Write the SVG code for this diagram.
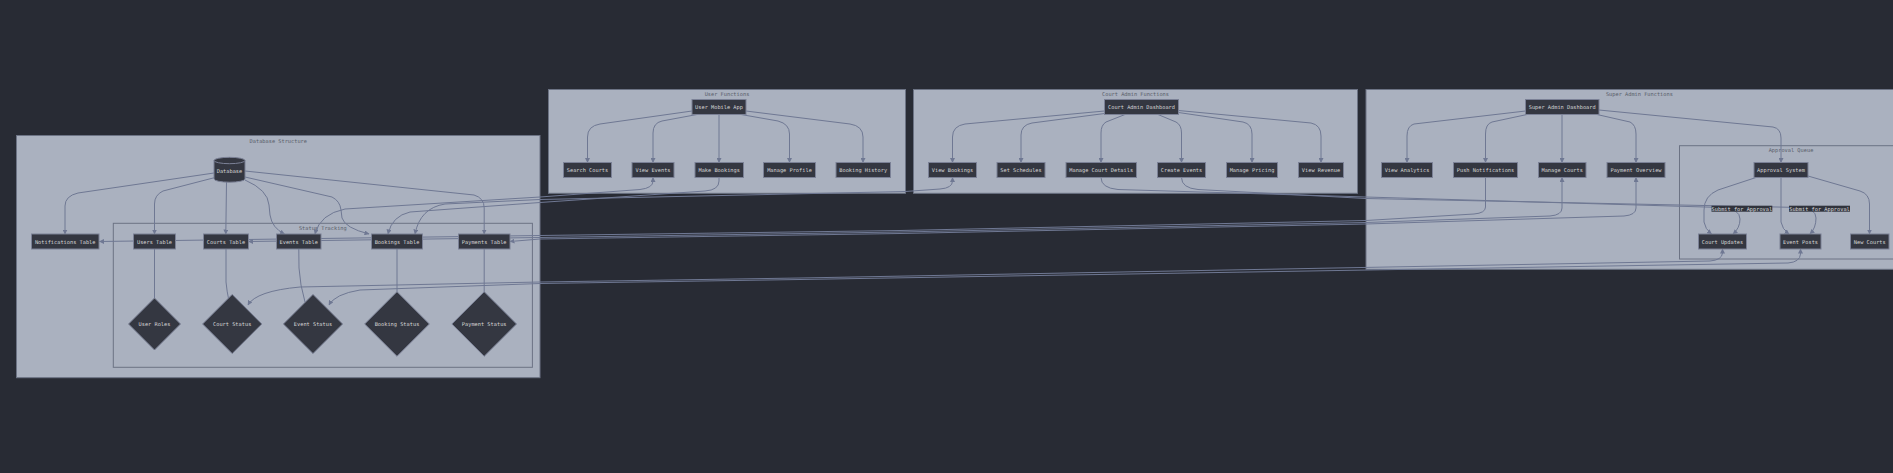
<svg xmlns="http://www.w3.org/2000/svg" width="1893" height="473" viewBox="0 0 1893 473">
<style>
text{font-family:"DejaVu Sans Mono","Liberation Mono",monospace;font-size:5.3px;text-anchor:middle;dominant-baseline:central}
.cluster rect{fill:#aab1bf;stroke:#6c7384;stroke-width:1}
.ctitle{fill:#585d69}
.node rect,.node path,.node polygon{fill:#343741;stroke:#7b8196;stroke-width:1}
.node text{fill:#d6d6d6}
.edge{fill:none;stroke:#6f7893;stroke-width:1}
.arr{marker-end:url(#ah)}
.bi{marker-start:url(#ahs);marker-end:url(#ah)}
.elabel rect{fill:#30333c}
.elabel text{fill:#dcdcdc}
</style>
<defs>
<marker id="ah" viewBox="0 0 10 10" refX="9" refY="5" markerWidth="5" markerHeight="5" markerUnits="userSpaceOnUse" orient="auto"><path d="M0,0 L10,5 L0,10 z" fill="#6f7893"/></marker>
<marker id="ahs" viewBox="0 0 10 10" refX="9" refY="5" markerWidth="5" markerHeight="5" markerUnits="userSpaceOnUse" orient="auto-start-reverse"><path d="M0,0 L10,5 L0,10 z" fill="#6f7893"/></marker>
</defs>
<rect width="1893" height="473" fill="#282b34"/>

<g id="clusters">
<g id="cl-db" class="cluster"><rect x="16.5" y="135.5" width="523.5" height="242.2"/><text class="ctitle" x="278.3" y="140.5">Database Structure</text></g>
<g id="cl-status" class="cluster"><rect x="113.3" y="223.3" width="419.1" height="144"/><text class="ctitle" x="322.8" y="228">Status Tracking</text></g>
<g id="cl-user" class="cluster"><rect x="548.5" y="89.5" width="357" height="103.8"/><text class="ctitle" x="727" y="94">User Functions</text></g>
<g id="cl-court" class="cluster"><rect x="913.5" y="89.5" width="444" height="103.8"/><text class="ctitle" x="1135.5" y="94">Court Admin Functions</text></g>
<g id="cl-super" class="cluster"><rect x="1366" y="89.5" width="547" height="179.8"/><text class="ctitle" x="1639.4" y="94">Super Admin Functions</text></g>
<g id="cl-approval" class="cluster"><rect x="1679.5" y="145.7" width="223" height="113.3"/><text class="ctitle" x="1791" y="150.3">Approval Queue</text></g>
</g>

<g id="connectors">
<!-- User Mobile App -->
<path class="edge arr" d="M692,111 L600,124 Q587.5,126 587.5,137 L587.5,162.5"/>
<path class="edge arr" d="M697,114.5 L662,121 Q653,123 653,133 L653,162.5"/>
<path class="edge arr" d="M719,114.5 L719,162.5"/>
<path class="edge arr" d="M741,114.5 L778,121 Q789.5,124 789.5,134 L789.5,162.5"/>
<path class="edge arr" d="M746,111 L850,124 Q863,126 863,137 L863,162.5"/>
<!-- Court Admin Dashboard -->
<path class="edge arr" d="M1104.5,111 L965,124 Q952.5,126 952.5,137 L952.5,162.5"/>
<path class="edge arr" d="M1104.5,113.5 L1032,123 Q1021,125 1021,135 L1021,162.5"/>
<path class="edge arr" d="M1125,114.5 L1106,122 Q1101,125 1101,133 L1101,162.5"/>
<path class="edge arr" d="M1158,114.5 L1176,122 Q1181.5,125 1181.5,133 L1181.5,162.5"/>
<path class="edge arr" d="M1178.5,112.5 L1243,122 Q1252,124 1252,134 L1252,162.5"/>
<path class="edge arr" d="M1178.5,110.5 L1311,123 Q1321,125 1321,136 L1321,162.5"/>
<!-- Super Admin Dashboard -->
<path class="edge arr" d="M1525.5,111 L1414,124 Q1407,126 1407,136 L1407,162.5"/>
<path class="edge arr" d="M1527,114.5 L1492,122 Q1485.5,124 1485.5,134 L1485.5,162.5"/>
<path class="edge arr" d="M1562,114.5 L1562,162.5"/>
<path class="edge arr" d="M1597,114.5 L1630,122 Q1636,125 1636,134 L1636,162.5"/>
<path class="edge arr" d="M1599,110 L1773,127 Q1781,128.5 1781,138 L1781,162.5"/>
<!-- Approval System -->
<path class="edge arr" d="M1756,177.5 L1718,190 Q1704,196 1704,210 L1704,222 Q1705,229 1711.5,234"/>
<path class="edge arr" d="M1781,177.5 L1781,222 Q1782,229 1789,234"/>
<path class="edge arr" d="M1808,176 L1860,191 Q1869.5,194 1869.5,204 L1869.5,234"/>
<!-- Submit for approval -->
<path class="edge arr" d="M1101,177.5 Q1101,188 1118,189.5 L1366,197 L1722,207.5 Q1740,209 1740,219 Q1740,228 1733,234"/>
<path class="edge arr" d="M1181.5,177.5 Q1181.5,188 1198,189.5 L1366,198.5 L1800,207.5 Q1816,208.5 1816,218 Q1816,228 1810,234"/>
<!-- Database -->
<path class="edge arr" d="M214,173 L78,193 Q65,196 65,206 L65,234"/>
<path class="edge arr" d="M217,177 L163,191 Q154.5,195 154.5,204 L154.5,234"/>
<path class="edge arr" d="M226.5,182 L225.8,234"/>
<path class="edge arr" d="M245,180 Q268,190 269,205 L270,215 Q272,228 284.5,234"/>
<path class="edge arr" d="M245,177 L332,197 Q340,201 341,210 L342,218 Q345,228 369,234"/>
<path class="edge arr" d="M245,171 L474,195 Q484.2,198 484.2,208 L484.2,234"/>
<!-- Tables to status -->
<path class="edge" d="M154.5,249 L154.5,298"/>
<path class="edge" d="M226,249 L226,282 Q227,292 228.5,298.5"/>
<path class="edge" d="M298.8,249 L299,268 Q300,285 305,302"/>
<path class="edge" d="M397,249 L397,291.7"/>
<path class="edge" d="M484.2,249 L484.2,291.7"/>
<!-- Cross links -->
<path class="edge bi" d="M653,177.5 L653,181 Q653,188 640,189.5 L540,197 L345,209 Q320,214 315,234"/>
<path class="edge arr" d="M719,177.5 L719,181 Q719,190 705,191 L540,202.5 L410,212 Q392,216 388,234"/>
<path class="edge bi" d="M952.5,177.5 L952.5,181 Q952.5,188 940,189 L905,191.5 L540,199.5 L445,204 Q420,208 415,234"/>
<path class="edge arr" d="M1485.5,177.5 L1485.5,207 Q1485.5,213 1474,214 L1366,220.5 L900,230.5 L540,235.5 L99.5,241.5"/>
<path class="edge bi" d="M1562,177.5 L1562,208 Q1562,215 1550,216 L1366,222.5 L900,232 L540,237.5 L248.5,241.5"/>
<path class="edge bi" d="M1636,177.5 L1636,208 Q1636,215 1624,216 L1366,224 L900,233.5 L540,239 L510,241.5"/>
<path class="edge bi" d="M1722.5,249 L1722.5,253 Q1722,260 1710,261 L800,278 L540,282 L300,287 Q256,291 248,305"/>
<path class="edge bi" d="M1800.5,249 L1800.5,254 Q1800,262 1788,263 L800,279.5 L540,283.5 L360,290 Q335,294 329,305"/>
</g>

<g id="edge-labels">
<g class="elabel"><rect x="1711.5" y="205.7" width="60.8" height="6"/><text x="1741.9" y="208.7">Submit for Approval</text></g>
<g class="elabel"><rect x="1789" y="205.7" width="61" height="6"/><text x="1819.5" y="208.7">Submit for Approval</text></g>
</g>

<g id="nodes">
<g id="n-usermobile" class="node"><rect x="692" y="99.5" width="54" height="15"/><text x="719" y="107">User Mobile App</text></g>
<g id="n-searchcourts" class="node"><rect x="563.5" y="162.5" width="48" height="15"/><text x="587.5" y="170">Search Courts</text></g>
<g id="n-viewevents" class="node"><rect x="632" y="162.5" width="42" height="15"/><text x="653" y="170">View Events</text></g>
<g id="n-makebookings" class="node"><rect x="695" y="162.5" width="48.5" height="15"/><text x="719.2" y="170">Make Bookings</text></g>
<g id="n-manageprofile" class="node"><rect x="763.5" y="162.5" width="52" height="15"/><text x="789.5" y="170">Manage Profile</text></g>
<g id="n-bookinghistory" class="node"><rect x="836" y="162.5" width="54.5" height="15"/><text x="863.2" y="170">Booking History</text></g>

<g id="n-courtadmin" class="node"><rect x="1104.5" y="99.5" width="74" height="15"/><text x="1141.5" y="107">Court Admin Dashboard</text></g>
<g id="n-viewbookings" class="node"><rect x="928.5" y="162.5" width="48" height="15"/><text x="952.5" y="170">View Bookings</text></g>
<g id="n-setschedules" class="node"><rect x="997" y="162.5" width="48" height="15"/><text x="1021" y="170">Set Schedules</text></g>
<g id="n-managecourtdetails" class="node"><rect x="1066" y="162.5" width="70.5" height="15"/><text x="1101.2" y="170">Manage Court Details</text></g>
<g id="n-createevents" class="node"><rect x="1157.5" y="162.5" width="48" height="15"/><text x="1181.5" y="170">Create Events</text></g>
<g id="n-managepricing" class="node"><rect x="1226.5" y="162.5" width="51" height="15"/><text x="1252" y="170">Manage Pricing</text></g>
<g id="n-viewrevenue" class="node"><rect x="1298.5" y="162.5" width="45" height="15"/><text x="1321" y="170">View Revenue</text></g>

<g id="n-superadmin" class="node"><rect x="1525.5" y="99.5" width="73.5" height="15"/><text x="1562.2" y="107">Super Admin Dashboard</text></g>
<g id="n-viewanalytics" class="node"><rect x="1381.5" y="162.5" width="51" height="15"/><text x="1407" y="170">View Analytics</text></g>
<g id="n-pushnotifications" class="node"><rect x="1453.5" y="162.5" width="64" height="15"/><text x="1485.5" y="170">Push Notifications</text></g>
<g id="n-managecourts" class="node"><rect x="1538.5" y="162.5" width="47.5" height="15"/><text x="1562.2" y="170">Manage Courts</text></g>
<g id="n-paymentoverview" class="node"><rect x="1607" y="162.5" width="58" height="15"/><text x="1636" y="170">Payment Overview</text></g>
<g id="n-approvalsystem" class="node"><rect x="1754" y="162.5" width="54" height="15"/><text x="1781" y="170">Approval System</text></g>
<g id="n-courtupdates" class="node"><rect x="1698.5" y="234" width="48" height="15"/><text x="1722.5" y="241.5">Court Updates</text></g>
<g id="n-eventposts" class="node"><rect x="1780" y="234" width="41" height="15"/><text x="1800.5" y="241.5">Event Posts</text></g>
<g id="n-newcourts" class="node"><rect x="1850.5" y="234" width="38.5" height="15"/><text x="1869.8" y="241.5">New Courts</text></g>

<g id="n-database" class="node"><path d="M214,160.5 a15.5,3.2 0 0 0 31,0 a15.5,3.2 0 0 0 -31,0 l0,18.5 a15.5,3.2 0 0 0 31,0 l0,-18.5"/><text x="229.5" y="171">Database</text></g>
<g id="n-notifications" class="node"><rect x="31.5" y="234" width="67.5" height="15"/><text x="65.2" y="241.5">Notifications Table</text></g>
<g id="n-users" class="node"><rect x="133.5" y="234" width="42" height="15"/><text x="154.5" y="241.5">Users Table</text></g>
<g id="n-courts" class="node"><rect x="203.5" y="234" width="45" height="15"/><text x="226" y="241.5">Courts Table</text></g>
<g id="n-events" class="node"><rect x="276.5" y="234" width="44.5" height="15"/><text x="298.7" y="241.5">Events Table</text></g>
<g id="n-bookings" class="node"><rect x="371.5" y="234" width="51" height="15"/><text x="397" y="241.5">Bookings Table</text></g>
<g id="n-payments" class="node"><rect x="458.5" y="234" width="51.5" height="15"/><text x="484.2" y="241.5">Payments Table</text></g>

<g id="n-userroles" class="node"><polygon points="154.5,298 180.5,324 154.5,350 128.5,324"/><text x="154.5" y="324">User Roles</text></g>
<g id="n-courtstatus" class="node"><polygon points="232.2,294.4 261.8,324 232.2,353.6 202.6,324"/><text x="232.2" y="324">Court Status</text></g>
<g id="n-eventstatus" class="node"><polygon points="313,294.4 342.6,324 313,353.6 283.4,324"/><text x="313" y="324">Event Status</text></g>
<g id="n-bookingstatus" class="node"><polygon points="397,291.7 429.3,324 397,356.3 364.7,324"/><text x="397" y="324">Booking Status</text></g>
<g id="n-paymentstatus" class="node"><polygon points="484.2,291.7 516.5,324 484.2,356.3 451.9,324"/><text x="484.2" y="324">Payment Status</text></g>
</g>
</svg>
